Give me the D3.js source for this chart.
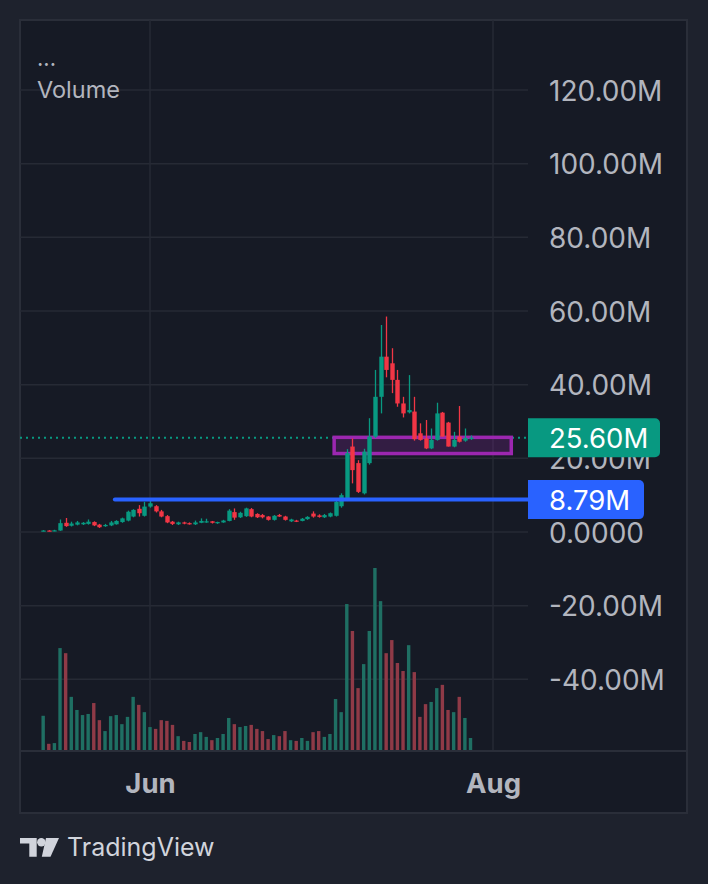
<!DOCTYPE html>
<html><head><meta charset="utf-8">
<script src="https://cdn.jsdelivr.net/npm/d3@7"></script>
<style>html,body{margin:0;padding:0;background:#1e222d;} svg{display:block;}</style>
</head><body><svg id="c" width="708" height="884"></svg>
<script>
// ---- data ----
const startDate = "2024-05-13", endDate = "2024-07-28";
const open  = [0.3,0.4,0.3,0.4,2.5,1.7,2.0,2.1,2.2,2.7,2.0,1.6,1.8,2.1,2.7,3.1,4.2,6.3,4.4,6.9,7.0,5.6,4.3,2.8,2.1,2.6,2.4,2.1,2.5,2.6,2.9,2.4,2.6,3.0,5.4,4.0,4.3,6.2,4.9,4.6,4.2,3.3,4.6,4.2,2.9,3.1,3.0,3.5,5.0,4.5,4.0,4.2,4.4,7.0,8.7,23.2,18.7,10.5,18.7,25.9,36.7,47.6,45.8,41.3,34.9,32.5,32.7,26.8,25.4,22.7,25.0,32.4,29.7,23.2,25.9,24.8,25.3];
const high  = [0.5,0.5,0.6,3.4,3.8,2.8,3.0,2.7,3.4,2.9,2.2,2.2,3.0,3.2,3.9,5.8,6.2,7.3,8.2,8.7,7.3,6.0,4.6,3.0,2.8,2.8,2.6,3.1,3.7,3.6,3.0,2.8,3.3,6.2,6.4,5.5,6.6,6.5,5.1,4.9,4.3,4.6,4.9,4.4,3.6,3.3,3.8,4.3,5.6,4.8,4.9,5.3,8.7,10.5,22.5,25.4,19.5,22.6,30.9,44.0,56.2,58.5,49.9,44.0,36.7,42.6,36.7,29.5,30.4,28.1,35.1,32.6,29.9,27.2,34.2,28.1,26.2];
const low   = [0.2,0.2,0.2,0.3,1.4,1.5,1.8,1.9,2.0,1.6,1.1,1.4,1.6,2.0,2.5,2.9,4.0,4.2,4.2,6.6,5.3,4.0,2.4,1.9,1.9,2.1,2.0,1.9,2.4,2.5,2.3,2.2,2.5,2.9,3.3,3.8,4.1,4.0,3.8,3.7,3.1,3.1,4.1,3.1,2.7,2.7,2.9,3.3,3.9,3.9,3.8,4.0,4.2,6.6,8.4,13.2,10.6,10.2,18.3,25.5,32.2,42.0,37.7,34.0,31.1,32.2,24.8,24.8,22.5,22.5,24.8,25.9,23.2,23.0,24.3,24.5,25.0];
const close = [0.4,0.3,0.45,2.4,1.6,2.3,2.6,2.5,2.8,1.8,1.3,1.9,2.6,3.0,3.7,5.5,6.0,5.1,6.9,7.8,5.6,4.2,2.6,2.2,2.6,2.3,2.2,2.6,3.0,2.9,2.5,2.7,3.1,5.8,3.9,5.2,6.4,4.2,4.0,4.0,3.3,4.4,4.2,3.3,3.4,2.9,3.6,4.1,4.2,4.1,4.6,5.1,8.2,10.0,21.4,16.8,10.9,21.8,25.9,36.7,47.6,44.0,41.3,34.9,32.2,33.1,25.2,25.0,22.7,25.0,32.2,25.9,23.2,25.0,24.5,25.5,25.6];
const volume = [9.4,1.7,1.9,28.0,26.6,14.6,11.0,9.6,9.9,12.9,8.2,5.2,9.3,9.6,7.1,9.1,14.6,12.4,10.4,6.3,5.8,8.2,8.0,6.9,3.8,2.5,2.2,4.4,4.9,3.6,2.7,3.3,4.4,8.8,7.1,6.3,6.6,6.9,5.8,5.2,3.0,4.1,3.8,5.2,2.7,2.5,3.3,2.5,4.9,5.2,3.6,4.4,14.0,10.4,40.1,32.7,17.0,23.6,32.7,50.0,40.9,26.6,30.2,23.9,21.7,28.8,21.4,9.1,12.6,13.2,17.0,17.9,11.0,10.4,14.6,8.8,3.3];
const priceTicks = [-40,-20,0,20,40,60,80,100,120];
const priceTickLabels = ["-40.00M","-20.00M","0.0000","20.00M","40.00M","60.00M","80.00M","100.00M","120.00M"];
const timeTicks = ["2024-06-01","2024-08-01"];
const timeTickLabels = ["Jun","Aug"];
const lastPrice = 25.60, lastLabel = "25.60M";
const hLineValue = 8.79, hLineLabel = "8.79M", hLineStart = "2024-05-25T18:00:00Z";
const zoneTop = 25.7, zoneBottom = 21.3, zoneStart = "2024-07-03T18:00:00Z", zoneEnd = "2024-08-04T06:00:00Z";

// ---- layout ----
const C = {bg:"#1e222d", pane:"#161a25", grid:"#262a35", text:"#b2b5be", up:"#089981", down:"#f23645",
           vup:"#1f6f63", vdown:"#8f3a47", blue:"#2962ff", purple:"#9c27b0"};
const L = 20, R = 687, T = 20, B = 813, plotR = 528, timeTop = 751;
const FONT = "Inter, 'Noto Sans', sans-serif";

const svg = d3.select("#c");
svg.append("rect").attr("width",708).attr("height",884).attr("fill",C.bg);
svg.append("rect").attr("x",L).attr("y",T).attr("width",R-L).attr("height",B-T)
   .attr("fill",C.pane).attr("stroke","#2a2e39").attr("stroke-width",2);

const dates = d3.utcDay.range(new Date(startDate+"T00:00:00Z"), d3.utcDay.offset(new Date(endDate+"T00:00:00Z"),1));
const data = dates.map((d,i)=>({d, o:open[i], h:high[i], l:low[i], c:close[i], v:volume[i]}));

const x = d3.scaleUtc().domain([new Date("2024-06-01T00:00:00Z"), new Date("2024-08-01T00:00:00Z")]).range([150,493]);
const y = d3.scaleLinear().domain([0,120]).range([532,90]);
const yv = d3.scaleLinear().domain([0,50]).range([750,568]);

// grid
const g = svg.append("g");
g.selectAll("line.h").data(priceTicks).join("line")
  .attr("x1",L).attr("x2",plotR).attr("y1",d=>y(d)).attr("y2",d=>y(d))
  .attr("stroke",C.grid).attr("stroke-width",1.5);
g.selectAll("line.v").data(timeTicks).join("line")
  .attr("x1",d=>x(new Date(d+"T00:00:00Z"))).attr("x2",d=>x(new Date(d+"T00:00:00Z")))
  .attr("y1",T).attr("y2",timeTop).attr("stroke",C.grid).attr("stroke-width",1.5);

// time axis separator
svg.append("line").attr("x1",L).attr("x2",R).attr("y1",timeTop).attr("y2",timeTop)
  .attr("stroke","#2a2e39").attr("stroke-width",2);

const clip = svg.append("defs").append("clipPath").attr("id","pc");
clip.append("rect").attr("x",L).attr("y",T).attr("width",plotR-L).attr("height",timeTop-T-1);
const plot = svg.append("g").attr("clip-path","url(#pc)");

// volume
plot.selectAll("rect.vol").data(data).join("rect")
  .attr("x",d=>x(d.d)-1.7).attr("width",3.4)
  .attr("y",d=>yv(d.v)).attr("height",d=>yv(0)-yv(d.v))
  .attr("fill",d=>d.c>=d.o?C.vup:C.vdown);

// last price dotted line
plot.append("line").attr("x1",L).attr("x2",plotR).attr("y1",y(lastPrice)).attr("y2",y(lastPrice))
  .attr("stroke",C.up).attr("stroke-width",2).attr("stroke-dasharray","2,4");

// zone rectangle
plot.append("rect").attr("x",x(new Date(zoneStart))).attr("y",y(zoneTop))
  .attr("width",x(new Date(zoneEnd))-x(new Date(zoneStart))).attr("height",y(zoneBottom)-y(zoneTop))
  .attr("fill","rgba(156,39,176,0.22)").attr("stroke",C.purple).attr("stroke-width",3.5);

// candles
const cg = plot.append("g");
cg.selectAll("line.wick").data(data).join("line")
  .attr("x1",d=>Math.round(x(d.d))+0.5).attr("x2",d=>Math.round(x(d.d))+0.5)
  .attr("y1",d=>y(d.h)).attr("y2",d=>y(d.l))
  .attr("stroke",d=>d.c>=d.o?C.up:C.down).attr("stroke-width",1.3);
cg.selectAll("rect.body").data(data).join("rect")
  .attr("x",d=>Math.round(x(d.d))+0.5-2.2).attr("width",4.4)
  .attr("y",d=>y(Math.max(d.o,d.c)))
  .attr("height",d=>Math.max(1.2, Math.abs(y(d.o)-y(d.c))))
  .attr("fill",d=>d.c>=d.o?C.up:C.down);

// horizontal blue line
svg.append("line").attr("x1",x(new Date(hLineStart))).attr("x2",plotR)
  .attr("y1",y(hLineValue)).attr("y2",y(hLineValue))
  .attr("stroke",C.blue).attr("stroke-width",4).attr("stroke-linecap","round");

// price axis
const ya = svg.append("g").attr("transform",`translate(${plotR},0)`)
  .call(d3.axisRight(y).tickValues(priceTicks).tickFormat((d,i)=>priceTickLabels[i]).tickSize(0).tickPadding(21));
ya.select(".domain").remove();
ya.selectAll("text").attr("fill",C.text).style("font-family",FONT).style("font-size","28px").attr("dy","0.36em");

// price labels
function badge(val,label,color,w){
  const yy = y(val), h = 39;
  svg.append("path").attr("d",`M${plotR},${yy-h/2} h${w-5} a5,5 0 0 1 5,5 v${h-10} a5,5 0 0 1 -5,5 h${-(w-5)} z`)
    .attr("fill",color);
  svg.append("text").attr("x",plotR+21).attr("y",yy).attr("dy","0.36em").text(label)
    .attr("fill","#ffffff").style("font-family",FONT).style("font-size","27.5px");
}
badge(lastPrice,lastLabel,C.up,132);
badge(hLineValue,hLineLabel,C.blue,116);

// time axis
const xa = svg.append("g").attr("transform",`translate(0,${timeTop})`)
  .call(d3.axisBottom(x).tickValues(timeTicks.map(d=>new Date(d+"T00:00:00Z"))).tickFormat((d,i)=>timeTickLabels[i]).tickSize(0).tickPadding(22));
xa.select(".domain").remove();
xa.selectAll("text").attr("fill",C.text).style("font-family",FONT).style("font-size","27.5px").style("font-weight","700");

// legend
svg.append("text").attr("x",37).attr("y",66).text("...").attr("fill",C.text)
  .style("font-family",FONT).style("font-size","22px");
svg.append("text").attr("x",37).attr("y",98).text("Volume").attr("fill",C.text)
  .style("font-family",FONT).style("font-size","23.5px");

// TradingView logo
const lg = svg.append("g").attr("fill","#d1d4dc");
lg.append("path").attr("d","M20,838 H36.7 V856.7 H29.3 V843.5 H20 Z");
lg.append("circle").attr("cx",41.3).attr("cy",842.2).attr("r",4.2);
lg.append("path").attr("d","M46,838 H59 L50.5,856.7 H41.8 Z");
svg.append("text").attr("x",67).attr("y",856).text("TradingView").attr("fill","#d1d4dc")
  .style("font-family",FONT).style("font-size","25px");
</script></body></html>
